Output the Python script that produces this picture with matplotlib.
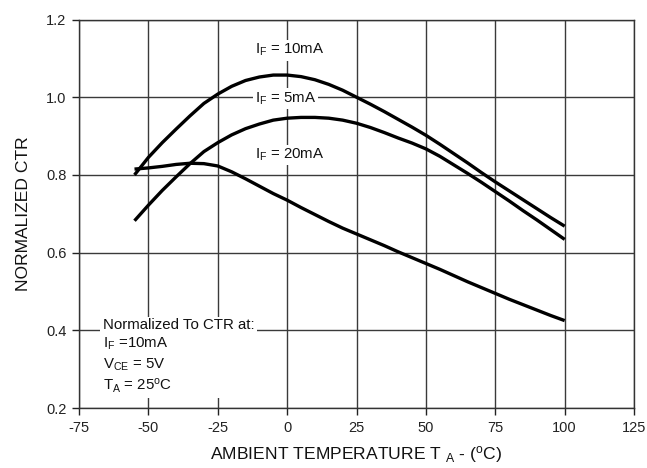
import matplotlib
matplotlib.use("Agg")
import matplotlib.pyplot as plt

plt.rcParams['font.family'] = ['Liberation Sans', 'DejaVu Sans']
plt.rcParams['mathtext.fontset'] = 'custom'
plt.rcParams['mathtext.rm'] = 'Liberation Sans'
plt.rcParams['mathtext.it'] = 'Liberation Sans'
plt.rcParams['axes.unicode_minus'] = False

temps = [-55, -50, -45, -40, -35, -30, -25, -20, -15, -10, -5, 0, 5, 10, 15, 20, 25,
         30, 35, 40, 45, 50, 55, 60, 65, 70, 75, 80, 85, 90, 95, 100]
ctr_10mA = [0.800, 0.845, 0.883, 0.918, 0.952, 0.984, 1.008, 1.028, 1.043, 1.052, 1.057, 1.057,
            1.053, 1.045, 1.033, 1.018, 1.000, 0.982, 0.963, 0.943, 0.923, 0.902, 0.879, 0.855,
            0.831, 0.806, 0.782, 0.759, 0.736, 0.713, 0.690, 0.668]
ctr_5mA = [0.682, 0.722, 0.760, 0.795, 0.829, 0.860, 0.883, 0.903, 0.919, 0.931, 0.941, 0.946,
           0.948, 0.948, 0.946, 0.941, 0.933, 0.922, 0.909, 0.895, 0.882, 0.867, 0.848, 0.826,
           0.804, 0.781, 0.757, 0.733, 0.708, 0.684, 0.659, 0.634]
ctr_20mA = [0.815, 0.818, 0.822, 0.827, 0.830, 0.829, 0.823, 0.808, 0.790, 0.771, 0.752, 0.735,
            0.716, 0.698, 0.680, 0.663, 0.648, 0.633, 0.618, 0.602, 0.587, 0.572, 0.557, 0.541,
            0.525, 0.510, 0.495, 0.480, 0.466, 0.452, 0.438, 0.425]
x_ticks = [-75, -50, -25, 0, 25, 50, 75, 100, 125]
y_ticks = [0.2, 0.4, 0.6, 0.8, 1.0, 1.2]
y_tick_labels = ['0.2', '0.4', '0.6', '0.8', '1.0', '1.2']

fig = plt.figure(figsize=(6.47, 4.68), dpi=100)
ax = fig.add_axes([0.1221, 0.1282, 0.8579, 0.8301])

grid_col = '#3a3a3a'
for v in x_ticks:
    ax.axvline(v, color=grid_col, lw=1.0, zorder=1)
for v in y_ticks:
    ax.axhline(v, color=grid_col, lw=1.0, zorder=1)

for series in (ctr_10mA, ctr_5mA, ctr_20mA):
    ax.plot(temps, series, color='black', lw=2.4, solid_capstyle='butt', zorder=3)

ax.set_xlim(-75, 125)
ax.set_ylim(0.2, 1.2)
ax.set_xticks(x_ticks)
ax.set_yticks(y_ticks)
ax.set_yticklabels(y_tick_labels)
ax.tick_params(direction='out', length=5, width=1, colors='#222222', labelsize=10.5,
               labelcolor='#222222', pad=4)
for s in ax.spines.values():
    s.set_color('#333333')
    s.set_linewidth(1.0)

fs = 10.8
bbox = dict(facecolor='white', edgecolor='none', pad=1.5)
ax.text(-11.5, 1.121, r'I$_\mathregular{F}$ = 10mA', fontsize=fs, va='center', ha='left',
        bbox=bbox, zorder=4, color='#111111')
ax.text(-11.5, 0.996, r'I$_\mathregular{F}$ = 5mA', fontsize=fs, va='center', ha='left',
        bbox=bbox, zorder=4, color='#111111')
ax.text(-11.5, 0.851, r'I$_\mathregular{F}$ = 20mA', fontsize=fs, va='center', ha='left',
        bbox=bbox, zorder=4, color='#111111')

note = ('Normalized To CTR at:\n'
        r'I$_\mathregular{F}$ =10mA' '\n'
        r'V$_\mathregular{CE}$ = 5V' '\n'
        r'T$_\mathregular{A}$ = 25$^\mathregular{o}$C')
ax.text(-66.5, 0.432, note, fontsize=fs, va='top', ha='left', linespacing=1.33,
        bbox=dict(facecolor='white', edgecolor='none', pad=2), zorder=4, color='#111111')

ax.set_xlabel(r'AMBIENT TEMPERATURE T $_\mathregular{A}$ - ($^\mathregular{o}$C)', fontsize=12.6,
              color='#111111', labelpad=7)
ax.set_ylabel('NORMALIZED CTR', fontsize=12.6, color='#111111', labelpad=11)

fig.savefig('out.png', dpi=100)
